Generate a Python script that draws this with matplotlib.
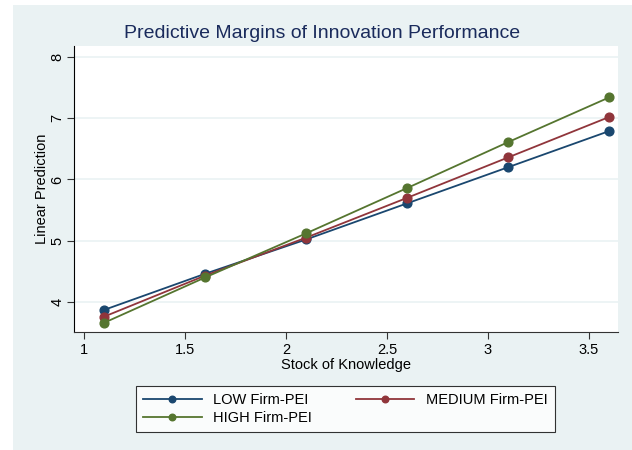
import matplotlib
matplotlib.use("Agg")
import matplotlib.pyplot as plt
from matplotlib.patches import Rectangle

plt.rcParams['font.family'] = ['Liberation Sans', 'DejaVu Sans']

x = [1.1, 1.6, 2.1, 2.6, 3.1, 3.6]
low = [3.87, 4.46, 5.02, 5.61, 6.20, 6.79]
medium = [3.76, 4.43, 5.05, 5.70, 6.36, 7.02]
high = [3.66, 4.40, 5.12, 5.86, 6.61, 7.34]
series_labels = ["LOW Firm-PEI", "MEDIUM Firm-PEI", "HIGH Firm-PEI"]
xticks = [1, 1.5, 2, 2.5, 3, 3.5]
xticklabels = ["1", "1.5", "2", "2.5", "3", "3.5"]
yticks = [4, 5, 6, 7, 8]

W, H = 632, 450
fig = plt.figure(figsize=(W / 100, H / 100), dpi=100)
fig.patch.set_facecolor('white')
bg = '#EAF2F3'
fig.add_artist(Rectangle((13 / W, 0), 1 - 13 / W, 1 - 5 / H, transform=fig.transFigure,
                         facecolor=bg, edgecolor='none', zorder=-10))

ax = fig.add_axes([74 / W, 1 - 332 / H, (618 - 74) / W, (332 - 46) / H])
ax.set_facecolor('white')

colors = ['#1a476f', '#90353b', '#55752f']
handles = []
for ys, c, lab in zip([low, medium, high], colors, series_labels):
    h, = ax.plot(x, ys, color=c, lw=1.3, marker='o', ms=6.3, label=lab, zorder=3)
    handles.append(h)

ax.set_xlim(0.95, 3.644)
ax.set_ylim(3.508, 8.18)
ax.set_xticks(xticks)
ax.set_xticklabels(xticklabels)
ax.set_yticks(yticks)
ax.set_yticklabels([str(t) for t in yticks], rotation=90, va='center')
ax.grid(axis='y', color=bg, lw=1.2, zorder=0)
ax.tick_params(axis='both', labelsize=10.5, length=5, width=0.8, color='#333333', pad=3)
ax.tick_params(axis='y', pad=2)
for s in ['top', 'right']:
    ax.spines[s].set_visible(False)
ax.spines['left'].set_color('black')
ax.spines['bottom'].set_color('#333333')

ax.set_xlabel("Stock of Knowledge", fontsize=10.5, labelpad=1)
ax.set_ylabel("Linear Prediction", fontsize=10.5, labelpad=1)

fig.text(322.5 / W, 1 - 33 / H, "Predictive Margins of Innovation Performance",
         ha='center', va='center', fontsize=14, color='#1a2b5c')

order = [handles[0], handles[2], handles[1]]
leg = fig.legend(order, [h.get_label() for h in order],
                 loc='center', bbox_to_anchor=(345.5 / W, 1 - 409 / H), ncol=2,
                 fontsize=10.5, frameon=True, fancybox=False, handlelength=4.0,
                 columnspacing=3.0, handletextpad=0.8, borderpad=0.5, labelspacing=0.3,
                 markerscale=0.75)
leg.get_frame().set_edgecolor('black')
leg.get_frame().set_linewidth(0.8)

fig.savefig("out.png", dpi=100, facecolor=fig.get_facecolor())
